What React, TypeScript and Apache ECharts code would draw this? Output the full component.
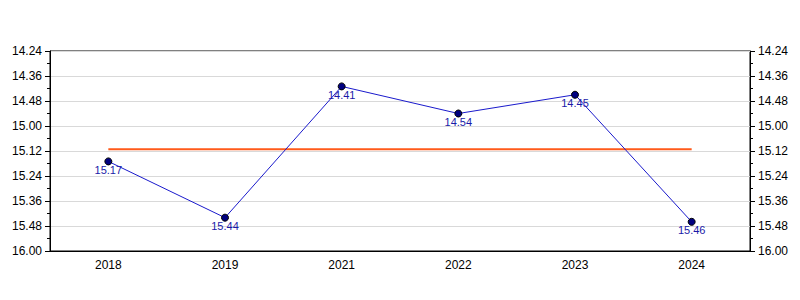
import React, { useEffect, useRef } from "react";
import * as echarts from "echarts";

const categories = ["2018", "2019", "2021", "2022", "2023", "2024"];
// times as minutes.seconds
const timeLabels = ["15.17", "15.44", "14.41", "14.54", "14.45", "15.46"];
const toSec = (t: string) => {
  const [m, s] = t.split(".");
  return Number(m) * 60 + Number(s);
};
const values = timeLabels.map(toSec);
const average = values.reduce((a, b) => a + b, 0) / values.length;
const averageLine = categories.map(() => average);

const fmt = (v: number) => {
  const m = Math.floor(v / 60);
  const s = Math.round(v - m * 60);
  return `${m}.${String(s).padStart(2, "0")}`;
};

export default function App() {
  const ref = useRef<HTMLDivElement>(null);
  useEffect(() => {
    if (!ref.current) return;
    const chart = echarts.init(ref.current, undefined, { renderer: "svg" });
    const yCommon = {
      type: "value" as const,
      inverse: true,
      min: 864,
      max: 960,
      interval: 12,
      axisLine: { show: true, lineStyle: { color: "#000", width: 1 } },
      axisTick: { show: true, length: 5, lineStyle: { color: "#000" } },
      minorTick: { show: true, splitNumber: 2, length: 3, lineStyle: { color: "#000" } },
      axisLabel: {
        formatter: (v: number) => fmt(v),
        color: "#000",
        fontFamily: "Liberation Sans, Arial, sans-serif",
        fontSize: 12,
        margin: 8,
      },
    };
    chart.setOption({
      animation: false,
      backgroundColor: "#fff",
      grid: {
        left: 50,
        right: 50,
        top: 51,
        bottom: 49,
        show: true,
        borderColor: "#000",
        borderWidth: 1,
      },
      xAxis: {
        type: "category",
        data: categories,
        boundaryGap: true,
        axisLine: { lineStyle: { color: "#000", width: 1 } },
        axisTick: { alignWithLabel: true, length: 5, lineStyle: { color: "#000" } },
        axisLabel: {
          color: "#000",
          fontFamily: "Liberation Sans, Arial, sans-serif",
          fontSize: 12,
          margin: 8,
        },
        splitLine: { show: false },
      },
      yAxis: [
        {
          ...yCommon,
          position: "left",
          splitLine: { show: true, lineStyle: { color: "#d9d9d9", width: 1 } },
        },
        {
          ...yCommon,
          position: "right",
          splitLine: { show: false },
        },
      ],
      series: [
        {
          type: "line",
          data: averageLine,
          yAxisIndex: 0,
          showSymbol: false,
          symbol: "none",
          lineStyle: { color: "#ff5a1a", width: 2 },
          silent: true,
          z: 1,
        },
        {
          type: "line",
          data: values,
          yAxisIndex: 0,
          symbol: "circle",
          symbolSize: 7,
          itemStyle: { color: "#000080", borderColor: "#000", borderWidth: 1 },
          lineStyle: { color: "#1a1acc", width: 1 },
          label: {
            show: true,
            position: "bottom",
            distance: -1,
            formatter: (p: any) => timeLabels[p.dataIndex],
            color: "#1a1aa8",
            fontFamily: "Liberation Sans, Arial, sans-serif",
            fontSize: 11,
          },
          z: 3,
        },
      ],
    });
    return () => chart.dispose();
  }, []);
  return <div ref={ref} style={{ width: 800, height: 300, position: "absolute", left: 0, top: 0 }} />;
}
